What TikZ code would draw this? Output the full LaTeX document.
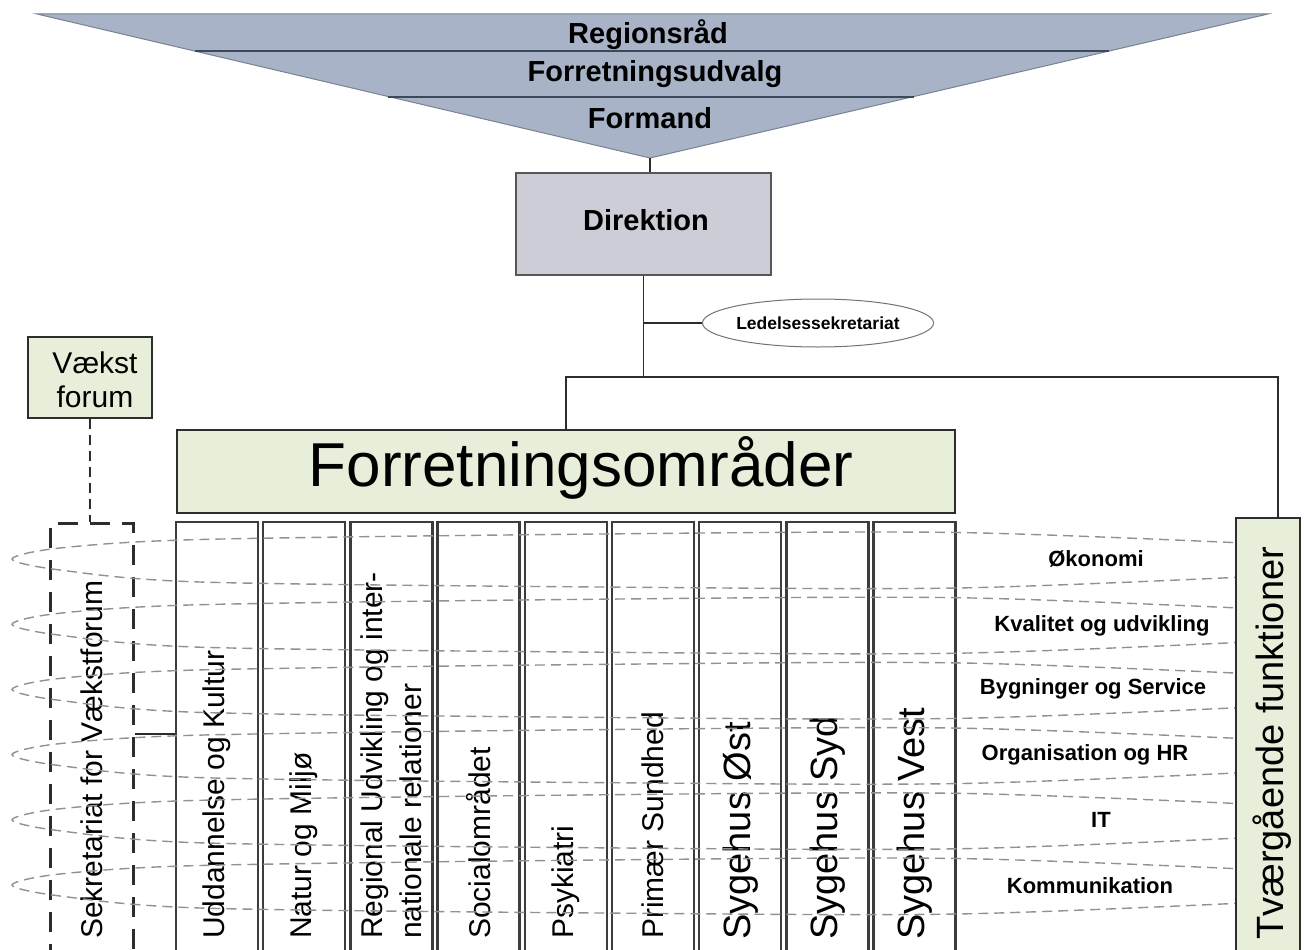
\documentclass[tikz,border=0pt]{standalone}
\usepackage{fontspec}
\setmainfont{Liberation Sans}
\usetikzlibrary{shapes.geometric}
\definecolor{trifill}{RGB}{168,179,200}
\definecolor{triline}{RGB}{60,72,92}
\definecolor{triedge}{RGB}{120,130,145}
\definecolor{dirfill}{RGB}{205,205,215}
\definecolor{greenfill}{RGB}{231,239,219}
\definecolor{dk}{RGB}{45,45,45}
\definecolor{colc}{RGB}{60,60,60}
\definecolor{loopc}{RGB}{145,145,145}
\newcommand\myfs[2]{\fontsize{#1}{#2}\selectfont}
\begin{document}
\begin{tikzpicture}[x=1pt,y=-1pt,
  conn/.style={draw=dk, line width=1.4pt},
  colbox/.style={draw=colc, line width=2.4pt, fill=white, minimum width=82pt, minimum height=470pt, anchor=north, inner sep=0pt},
  coltext/.style={rotate=90, anchor=west, font=\myfs{30}{39}, inner sep=0pt, align=left},
  bigtext/.style={rotate=90, anchor=west, font=\myfs{38}{44}, inner sep=0pt},
  lbl/.style={font=\bfseries\myfs{22}{26}, inner sep=0pt},
  tritext/.style={font=\bfseries\myfs{29}{33}, inner sep=0pt},
  greenbox/.style={draw=dk, line width=2pt, fill=greenfill, inner sep=0pt},
  loopline/.style={draw=loopc, line width=1.4pt, dash pattern=on 10pt off 6pt},
]
\useasboundingbox (0,0) rectangle (1304,950);
\clip (0,0) rectangle (1304,950);
\fill[white] (0,0) rectangle (1304,950);

% ---- triangle
\coordinate (apex) at (650,158);
\filldraw[fill=trifill, draw=triedge, line width=1pt] (37,14) -- (1268,14) -- (apex) -- cycle;
\draw[draw=triline, line width=2pt] (194.5,51) -- (1109,51);
\draw[draw=triline, line width=2pt] (388,96.5) -- (914,96.5);
\node[tritext] (reg) at (648,35) {Regionsråd};
\node[tritext] (fu) at (655,74) {Forretningsudvalg};
\node[tritext] (form) at (650,118) {Formand};

% ---- direktion
\node[draw=dk!80, line width=1.5pt, fill=dirfill, minimum width=255pt, minimum height=102pt, inner sep=0pt] (dir) at (643.5,224) {};
\node[font=\bfseries\myfs{29}{33}, inner sep=0pt] (dirt) at (646,220) {Direktion};
\draw[conn] (apex) -- (apex |- dir.north);

\node[ellipse, draw=black!55, line width=1pt, fill=white, minimum width=223pt, minimum height=48pt, inner sep=0pt, font=\bfseries\myfs{17.5}{20}] (led) at (818,323) {Ledelsessekretariat};

\coordinate (hbar) at (0,377);
\draw[conn] (dir.south) -- (dir.south |- hbar);
\draw[conn] (dir.south |- led.west) -- (led.west);

% ---- Forretningsomraader
\node[greenbox, minimum width=778pt, minimum height=83pt] (fo) at (566,471.5) {};
\node[font=\myfs{62}{70}, inner sep=0pt] (fot) at (581,468) {Forretningsområder};

% ---- Tvaergaaende box
\node[greenbox, minimum width=64pt, minimum height=440pt, anchor=north] (tv) at (1268,517) {};
\draw[conn] (fo.north) -- (fo.north |- hbar) -| ([xshift=10pt]tv.north);

% ---- Vaekst forum
\node[greenbox, minimum width=124pt, minimum height=81pt] (vf) at (90,377.5) {};
\node[font=\myfs{30}{34}, align=center, inner sep=0pt] (vft) at (95,380) {Vækst\\forum};
\node[draw=dk, line width=3pt, dash pattern=on 20pt off 12pt, minimum width=83pt, minimum height=470pt, anchor=north, inner sep=0pt] (sek) at (91.5,522) {};
\draw[draw=dk, line width=1.4pt, dash pattern=on 10pt off 6pt] (vf.south) -- (vf.south |- sek.north);
\node[coltext] (sekt) at (92,939) {Sekretariat for Vækstforum};

% ---- columns
\foreach \k/\nm in {0/c1,1/c2,2/c3,3/c4,4/c5,5/c6,6/c7,7/c8,8/c9}{
  \node[colbox] (\nm) at (217+87.2*\k,521) {};
}
\coordinate (hb2) at (0,734);
\draw[conn] (sek.east |- hb2) -- (c1.west |- hb2);

\node[coltext] (t1) at (c1.center |- 0,939) {Uddannelse og Kultur};
\node[coltext] (t2) at (c2.center |- 0,939) {Natur og Miljø};
\node[coltext] (t3) at (c3.center |- 0,939) {Regional Udvikling og inter-\\nationale relationer};
\node[coltext] (t4) at (c4.center |- 0,939) {Socialområdet};
\node[coltext] (t5) at (c5.center |- 0,939) {Psykiatri};
\node[coltext] (t6) at (c6.center |- 0,939) {Primær Sundhed};
\node[bigtext] (t7) at (c7.center |- 0,940) {Sygehus Øst};
\node[bigtext] (t8) at (c8.center |- 0,940) {Sygehus Syd};
\node[bigtext] (t9) at (c9.center |- 0,940) {Sygehus Vest};

% ---- dashed loops
\foreach \i in {0,...,5}{
  \pgfmathsetmacro\c{560+65.2*\i}
  \draw[loopline] plot[smooth, tension=0.5] coordinates {
    (1265,\c-16) (957,\c-27.5) (600,\c-26) (200,\c-20.5) (60,\c-12) (12,\c-1)
    (60,\c+10) (200,\c+22) (600,\c+27) (957,\c+28) (1265,\c+16)};
}

% redraw Tvaergaaende box on top
\node[greenbox, minimum width=64pt, minimum height=440pt, anchor=north] (tv2) at (tv.north) {};
\node[bigtext] (tvt) at (1272,940) {Tværgående funktioner};

% ---- labels
\node[lbl] (l1) at (1096,559) {Økonomi};
\node[lbl] (l2) at (1102,626) {Kvalitet og udvikling};
\node[lbl] (l3) at (1093,689) {Bygninger og Service};
\node[lbl] (l4) at (1085,755) {Organisation og HR};
\node[lbl] (l5) at (1101,820) {IT};
\node[lbl] (l6) at (1090,886) {Kommunikation};
\end{tikzpicture}
\end{document}
